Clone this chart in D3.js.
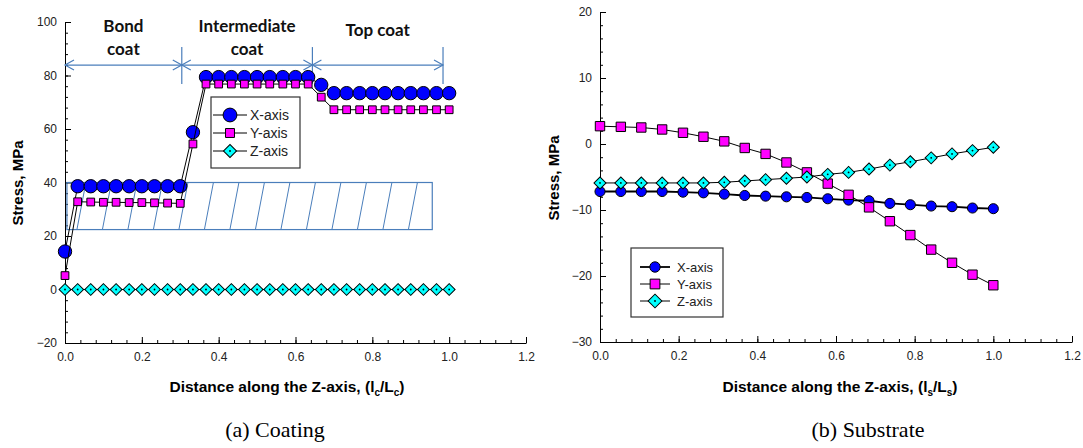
<!DOCTYPE html>
<html>
<head>
<meta charset="utf-8">
<script src="https://cdn.jsdelivr.net/npm/d3@7"></script>
<style>
  body { margin: 0; background: #fff; }
  svg { display: block; font-family: "Liberation Sans", Arial, sans-serif; }
  .tick text { font-size: 12px; fill: #222; }
  .axis path, .axis line { stroke: #000; }
</style>
</head>
<body>
<div class="chart"></div>
<script>
// ---- data ----
// (a) coating: distance l_c/L_c and stress (MPa)
const coatDist = [0.000, 0.033, 0.067, 0.100, 0.133, 0.167, 0.200, 0.233, 0.267, 0.300,
                  0.333, 0.367, 0.400, 0.433, 0.467, 0.500, 0.533, 0.567, 0.600, 0.633,
                  0.667, 0.700, 0.733, 0.767, 0.800, 0.833, 0.867, 0.900, 0.933, 0.967, 1.000];
const coatX = [14.2, 38.6, 38.6, 38.6, 38.6, 38.6, 38.6, 38.6, 38.6, 38.6,
               58.8, 79.4, 79.4, 79.4, 79.4, 79.4, 79.4, 79.4, 79.4, 79.4,
               76.5, 73.4, 73.4, 73.4, 73.4, 73.4, 73.4, 73.4, 73.4, 73.4, 73.4];
const coatY = [5.2, 32.8, 32.7, 32.6, 32.6, 32.5, 32.5, 32.4, 32.3, 32.2,
               54.4, 76.8, 76.8, 76.8, 76.8, 76.8, 76.8, 76.8, 76.8, 76.8,
               71.9, 67.2, 67.2, 67.2, 67.2, 67.2, 67.2, 67.2, 67.2, 67.2, 67.2];
const coatZ = [0, 0, 0, 0, 0, 0, 0, 0, 0, 0, 0, 0, 0, 0, 0, 0,
               0, 0, 0, 0, 0, 0, 0, 0, 0, 0, 0, 0, 0, 0, 0];

// (b) substrate: distance l_s/L_s and stress (MPa)
const subDist = [0.000, 0.053, 0.105, 0.158, 0.211, 0.263, 0.316, 0.368, 0.421, 0.474,
                 0.526, 0.579, 0.632, 0.684, 0.737, 0.789, 0.842, 0.895, 0.947, 1.000];
const subX = [-7.2, -7.2, -7.2, -7.2, -7.3, -7.4, -7.6, -7.8, -7.9, -8.0,
              -8.1, -8.3, -8.5, -8.6, -9.0, -9.2, -9.4, -9.5, -9.7, -9.8];
const subY = [2.7, 2.6, 2.5, 2.2, 1.7, 1.1, 0.4, -0.6, -1.5, -2.8,
              -4.3, -6.0, -7.7, -9.6, -11.7, -13.8, -16.0, -18.0, -19.8, -21.4];
const subZ = [-5.9, -5.9, -5.9, -5.9, -5.9, -5.9, -5.8, -5.6, -5.4, -5.2,
              -5.0, -4.6, -4.3, -3.8, -3.2, -2.7, -2.1, -1.5, -1.0, -0.5];

const seriesNames = ["X-axis", "Y-axis", "Z-axis"];
const xTicks = [0, 0.2, 0.4, 0.6, 0.8, 1.0, 1.2];
const coatYTicks = [-20, 0, 20, 40, 60, 80, 100];
const subYTicks = [-30, -20, -10, 0, 10, 20];

// layer annotations of the coating plot (data units)
const layerNames = [["Bond", "coat"], ["Intermediate", "coat"], ["Top coat"]];
const layerBounds = [0, 0.304, 0.644, 0.984];
const arrowLevel = 83.9;
const hatchBox = {x0: 0.005, x1: 0.956, y0: 22.4, y1: 40};

const width = 1083, height = 448;
const annoColor = "#4a7ebb";

const svg = d3.select(".chart").append("svg")
    .attr("width", width)
    .attr("height", height);

// marker shapes
const markers = [
    {fill: "#0000ff", path: s => d3.symbol(d3.symbolCircle, s.circle)()},
    {fill: "#ff00ff", path: s => d3.symbol(d3.symbolSquare, s.square)()},
    {fill: "#00ffff", path: s => d3.symbol(d3.symbolSquare, s.diamond)(), rotate: 45, dot: true}
];

function drawMarker(g, k, size, cx, cy) {
    const m = markers[k];
    g.append("path")
        .attr("d", m.path(size))
        .attr("transform", `translate(${cx},${cy})` + (m.rotate ? ` rotate(${m.rotate})` : ""))
        .attr("fill", m.fill)
        .attr("stroke", "#000")
        .attr("stroke-width", 1);
    if (m.dot) {
        g.append("circle").attr("cx", cx).attr("cy", cy).attr("r", 0.9).attr("fill", "#000");
    }
}

function panel(opt) {
    const x = d3.scaleLinear().domain([0, 1.2]).range(opt.xRange);
    const y = d3.scaleLinear().domain(opt.yDomain).range(opt.yRange);
    const g = svg.append("g");

    // minor ticks
    g.append("g").attr("class", "axis")
        .attr("transform", `translate(0,${opt.yRange[0]})`)
        .call(d3.axisBottom(x).tickValues(d3.range(0, 1.2001, 0.04)).tickSize(-3).tickFormat(""))
        .call(a => a.select(".domain").remove());
    g.append("g").attr("class", "axis")
        .attr("transform", `translate(${opt.xRange[0]},0)`)
        .call(d3.axisLeft(y).tickValues(d3.range(opt.yDomain[0], opt.yDomain[1] + 0.001, opt.yMinor)).tickSize(-3).tickFormat(""))
        .call(a => a.select(".domain").remove());

    // major ticks + labels
    g.append("g").attr("class", "axis")
        .attr("transform", `translate(0,${opt.yRange[0]})`)
        .call(d3.axisBottom(x).tickValues(xTicks).tickSize(-6).tickSizeOuter(0)
            .tickPadding(9).tickFormat(d3.format(".1f")));
    g.append("g").attr("class", "axis")
        .attr("transform", `translate(${opt.xRange[0]},0)`)
        .call(d3.axisLeft(y).tickValues(opt.yTicks).tickSize(-6).tickSizeOuter(0)
            .tickPadding(8).tickFormat(d3.format("d")));
    g.selectAll(".tick text").attr("font-family", "Liberation Sans, Arial, sans-serif");

    // axis titles
    g.append("text")
        .attr("transform", `translate(${opt.yTitleX},${opt.yTitleY}) rotate(-90)`)
        .attr("text-anchor", "middle")
        .attr("font-size", 15).attr("font-weight", "bold")
        .text("Stress, MPa");

    const xt = g.append("text")
        .attr("x", opt.xTitleX)
        .attr("y", 392)
        .attr("text-anchor", "middle")
        .attr("font-size", 15.5).attr("font-weight", "bold");
    xt.append("tspan").text("Distance along the Z-axis, (l");
    xt.append("tspan").attr("font-size", 10).attr("dy", 4).text(opt.sub);
    xt.append("tspan").attr("dy", -4).text("/L");
    xt.append("tspan").attr("font-size", 10).attr("dy", 4).text(opt.sub);
    xt.append("tspan").attr("dy", -4).text(")");

    // caption
    g.append("text")
        .attr("x", opt.captionX).attr("y", 437)
        .attr("text-anchor", "middle")
        .attr("font-family", "Liberation Serif, Times New Roman, serif")
        .attr("font-size", 22)
        .text(opt.caption);

    if (opt.extra) opt.extra(g, x, y);

    // series: line then markers, X under Y under Z
    const line = d3.line().x(d => x(d[0])).y(d => y(d[1]));
    opt.series.forEach((vals, k) => {
        const pts = opt.dist.map((d, i) => [d, vals[i]]);
        g.append("path")
            .attr("d", line(pts))
            .attr("fill", "none")
            .attr("stroke", "#000")
            .attr("stroke-width", opt.lineWidth[k]);
        const mg = g.append("g");
        pts.forEach(p => drawMarker(mg, k, opt.markerSize, x(p[0]), y(p[1])));
    });

    // legend
    const L = opt.legend;
    g.append("rect")
        .attr("x", L.x).attr("y", L.y).attr("width", L.w).attr("height", L.h)
        .attr("fill", "#fff").attr("stroke", "#333").attr("stroke-width", 1.2);
    seriesNames.forEach((name, k) => {
        const cy = L.rows[k];
        g.append("line")
            .attr("x1", L.lineX[0]).attr("x2", L.lineX[1])
            .attr("y1", cy).attr("y2", cy)
            .attr("stroke", "#000").attr("stroke-width", opt.lineWidth[k]);
        drawMarker(g, k, L.markerSize, (L.lineX[0] + L.lineX[1]) / 2, cy);
        g.append("text")
            .attr("x", L.textX).attr("y", cy)
            .attr("dy", "0.35em")
            .attr("font-size", L.fontSize)
            .attr("fill", "#222")
            .text(name);
    });
}

// hatched box, layer arrows and layer labels for the coating plot
function coatAnnotations(g, x, y) {
    const bx0 = x(hatchBox.x0), bx1 = x(hatchBox.x1);
    const by0 = y(hatchBox.y1), by1 = y(hatchBox.y0);
    g.append("clipPath").attr("id", "hatchClip")
        .append("rect").attr("x", bx0).attr("y", by0).attr("width", bx1 - bx0).attr("height", by1 - by0);
    const hatch = g.append("g").attr("clip-path", "url(#hatchClip)");
    for (let hx = bx0 + 10; hx < bx1 + 10; hx += 25.5) {
        hatch.append("line")
            .attr("x1", hx).attr("y1", by1)
            .attr("x2", hx + 9).attr("y2", by0)
            .attr("stroke", annoColor).attr("stroke-width", 1);
    }
    g.append("rect")
        .attr("x", bx0).attr("y", by0).attr("width", bx1 - bx0).attr("height", by1 - by0)
        .attr("fill", "none").attr("stroke", annoColor).attr("stroke-width", 1.2);

    const ay = y(arrowLevel);
    const head = (tx, dir) => `M${tx + dir * 9},${ay - 5}L${tx},${ay}L${tx + dir * 9},${ay + 5}`;
    for (let i = 0; i < 3; i++) {
        const a = x(layerBounds[i]), b = x(layerBounds[i + 1]);
        g.append("line").attr("x1", a).attr("x2", b).attr("y1", ay).attr("y2", ay)
            .attr("stroke", annoColor).attr("stroke-width", 1.3);
        g.append("path").attr("d", head(a, 1) + head(b, -1))
            .attr("fill", "none").attr("stroke", annoColor).attr("stroke-width", 1.2);
    }
    layerBounds.slice(1).forEach(v => {
        g.append("line").attr("x1", x(v)).attr("x2", x(v))
            .attr("y1", ay - 18).attr("y2", ay + 19)
            .attr("stroke", annoColor).attr("stroke-width", 1.2);
    });

    layerNames.forEach((lines, i) => {
        const cx = (x(layerBounds[i]) + x(layerBounds[i + 1])) / 2;
        const t = g.append("text")
            .attr("x", cx)
            .attr("y", lines.length > 1 ? 32 : 36)
            .attr("text-anchor", "middle")
            .attr("font-family", "Lato, Open Sans, sans-serif")
            .attr("font-weight", "bold")
            .attr("font-size", 17)
            .attr("fill", "#111");
        lines.forEach((s, j) => t.append("tspan").attr("x", cx).attr("dy", j ? 23 : 0).text(s));
    });
}

panel({
    xRange: [65, 526], yDomain: [-20, 100], yRange: [343, 22],
    yTicks: coatYTicks, yMinor: 4,
    yTitleX: 23, yTitleY: 183,
    dist: coatDist, series: [coatX, coatY, coatZ],
    lineWidth: [1, 1, 1],
    markerSize: {circle: 140, square: 60, diamond: 70},
    sub: "c", xTitleX: 287, caption: "(a) Coating", captionX: 275,
    legend: {x: 211, y: 97, w: 89, h: 71, rows: [115, 133, 151], lineX: [213, 247],
             textX: 250, fontSize: 14, markerSize: {circle: 150, square: 80, diamond: 85}},
    extra: coatAnnotations
});

panel({
    xRange: [600, 1072], yDomain: [-30, 20], yRange: [342, 12],
    yTicks: subYTicks, yMinor: 2,
    yTitleX: 559, yTitleY: 178,
    dist: subDist, series: [subX, subY, subZ],
    lineWidth: [1.8, 1, 1],
    markerSize: {circle: 80, square: 88, diamond: 72},
    sub: "s", xTitleX: 840, caption: "(b) Substrate", captionX: 868,
    legend: {x: 631, y: 248, w: 92, h: 69, rows: [267, 284, 301], lineX: [640, 670],
             textX: 677, fontSize: 13, markerSize: {circle: 85, square: 95, diamond: 95}}
});
</script>
</body>
</html>
